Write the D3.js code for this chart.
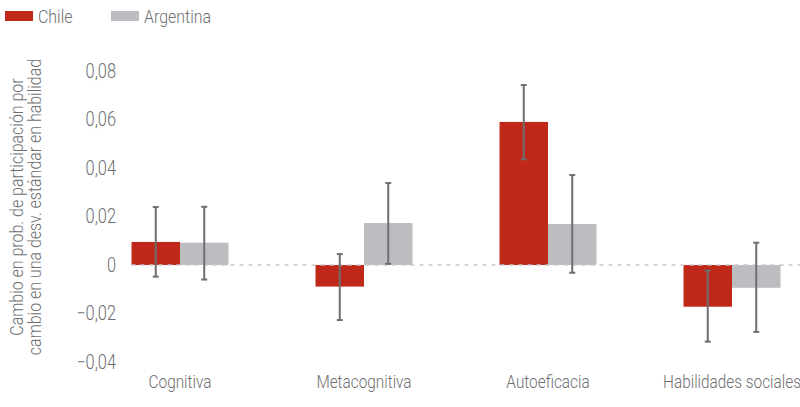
<!DOCTYPE html>
<html><head><meta charset="utf-8">
<script src="https://cdn.jsdelivr.net/npm/d3@7"></script>
<style>
body{margin:0;background:#fff;}
text{font-family:Roboto,"Open Sans",sans-serif;font-weight:300;fill:#6d6e71;}
</style></head>
<body><svg id="c" width="800" height="407"></svg>
<script>
const categories = ["Cognitiva","Metacognitiva","Autoeficacia","Habilidades sociales"];
const series = ["Chile","Argentina"];
const chileValues = [0.0095, -0.0089, 0.059, -0.0172];
const chileLow = [-0.0048, -0.0227, 0.0436, -0.0316];
const chileHigh = [0.0239, 0.0045, 0.0742, -0.0023];
const argValues = [0.0092, 0.0173, 0.0169, -0.0094];
const argLow = [-0.006, 0.0005, -0.0032, -0.0276];
const argHigh = [0.024, 0.0338, 0.0371, 0.0092];
const yTicks = [-0.04,-0.02,0,0.02,0.04,0.06,0.08];
const colors = ["#c0291a","#bcbdc1"];
const SX = 0.84; // condensed look

const svg = d3.select("#c");
const y = d3.scaleLinear().domain([-0.04,0.08]).range([362,71]);
const x = d3.scaleBand().domain(categories).range([88,824]).paddingInner(0.473).paddingOuter(0.2365);
const xs = d3.scaleBand().domain(series).range([0,x.bandwidth()]);
const fmt = v => v===0 ? "0" : d3.format(".2f")(v).replace(".",",").replace("-","\u2212");

const data = [];
categories.forEach((c,i)=>{
  data.push({c, s:"Chile", v:chileValues[i], lo:chileLow[i], hi:chileHigh[i]});
  data.push({c, s:"Argentina", v:argValues[i], lo:argLow[i], hi:argHigh[i]});
});
const color = d3.scaleOrdinal().domain(series).range(colors);

// y axis labels
const yAxis = d3.axisLeft(y).tickValues(yTicks).tickFormat(fmt).tickSize(0).tickPadding(0);
const ga = svg.append("g").attr("transform","translate(116,0)").call(yAxis);
ga.select(".domain").remove();
ga.selectAll("text").style("font-size","19.5px").attr("fill","#6d6e71").style("font-family",null).attr("transform",`scale(${SX},1)`);

// bars
svg.selectAll("rect.bar").data(data).enter().append("rect")
  .attr("x", d=>x(d.c)+xs(d.s))
  .attr("width", xs.bandwidth())
  .attr("y", d=>y(Math.max(0,d.v)))
  .attr("height", d=>Math.abs(y(d.v)-y(0)))
  .attr("fill", d=>color(d.s));

// zero line
svg.append("line").attr("x1",x(categories[0])).attr("x2",800)
  .attr("y1",y(0)).attr("y2",y(0))
  .attr("stroke","#c8c9cb").attr("stroke-width",1.5).attr("stroke-dasharray","4,5");

// error bars
const eb = svg.selectAll("g.eb").data(data).enter().append("g")
  .attr("transform", d=>`translate(${x(d.c)+xs(d.s)+xs.bandwidth()/2},0)`);
eb.append("line").attr("y1",d=>y(d.lo)).attr("y2",d=>y(d.hi)).attr("stroke","#6d6e70").attr("stroke-width",2);
eb.append("line").attr("x1",-3).attr("x2",3).attr("y1",d=>y(d.lo)).attr("y2",d=>y(d.lo)).attr("stroke","#6d6e70").attr("stroke-width",2);
eb.append("line").attr("x1",-3).attr("x2",3).attr("y1",d=>y(d.hi)).attr("y2",d=>y(d.hi)).attr("stroke","#6d6e70").attr("stroke-width",2);

// x labels
const xAxis = d3.axisBottom(x).tickSize(0).tickPadding(0);
const gx = svg.append("g").attr("transform","translate(0,372)").call(xAxis);
gx.select(".domain").remove();
gx.selectAll("text").style("font-size","18.3px").attr("fill","#6d6e71").style("font-family",null).attr("dy","0.9em").attr("transform",`scale(${SX},1)`);

// y title
const t = svg.append("text").attr("transform",`translate(0,207) rotate(-90) scale(${SX},1)`).attr("text-anchor","middle").style("font-size","19px");
t.append("tspan").attr("x",0).attr("y",23).text("Cambio en prob. de participación por");
t.append("tspan").attr("x",0).attr("y",41).text("cambio en una desv. estándar en habilidad");

// legend
const lg = svg.selectAll("g.lg").data(series).enter().append("g")
  .attr("transform",(d,i)=>`translate(${5+i*106},0)`);
lg.append("rect").attr("x",0).attr("y",11).attr("width",28).attr("height",10).attr("fill",d=>color(d));
lg.append("text").attr("transform",`translate(33,23) scale(${SX},1)`).style("font-size","19px").text(d=>d);
</script></body></html>
